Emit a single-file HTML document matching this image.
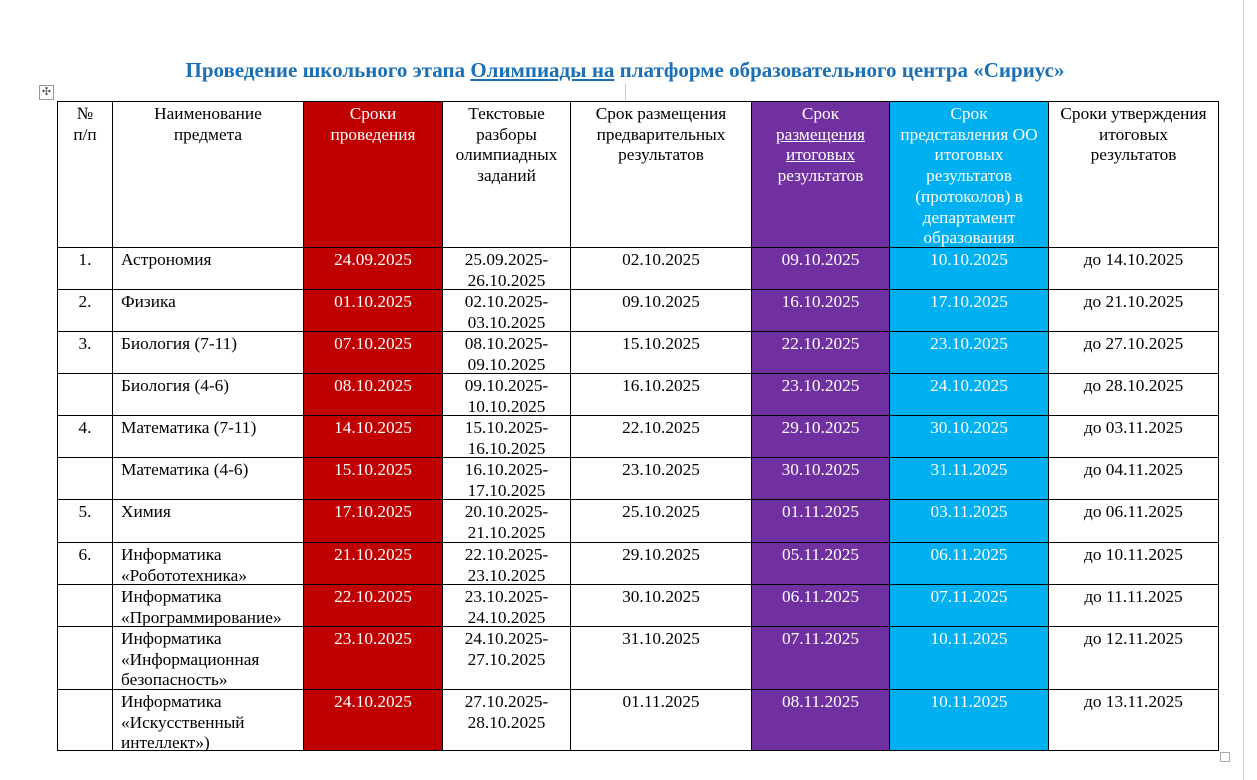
<!DOCTYPE html>
<html><head><meta charset="utf-8"><style>
body{margin:0;width:1257px;height:780px;background:#fff;position:relative;overflow:hidden;font-family:"Liberation Serif","Noto Serif CJK SC",serif;}
.title{position:absolute;top:58px;left:0;width:1250px;text-align:center;color:#1b6fb5;font-weight:bold;font-size:21px;}
table{position:absolute;left:57px;top:101px;border-collapse:collapse;table-layout:fixed;font-size:17.3px;line-height:20.7px;}
td{border:1px solid #000;vertical-align:top;text-align:center;padding:0;overflow:visible;}
td div{overflow:visible;padding-top:2px;white-space:nowrap;}
td.n div{text-align:left;padding-left:8px;}
.r{background:#c00000;color:#fff;}
.p{background:#7030a0;color:#fff;}
.c{background:#00b0f0;color:#fff;}
.mv{position:absolute;left:39px;top:85px;width:13px;height:13px;border:1px solid #999;font-size:11px;line-height:13px;text-align:center;color:#555;}
tr.h2 div{height:39px}
tr.h3 div{height:60px}
tr.h1 div{height:143px}
</style></head><body>
<div class="title">Проведение школьного этапа <u>Олимпиады  на</u> платформе образовательного центра «Сириус»</div>
<div class="mv">✣</div>
<div style="position:absolute;left:1243px;top:0;width:1px;height:780px;background:#ccc"></div>
<div style="position:absolute;left:625px;top:84px;width:1px;height:16px;background:#ccc"></div>
<div style="position:absolute;left:1220px;top:752px;width:8px;height:8px;border:1px solid #aaa"></div>
<table>
<colgroup><col style="width:55px"><col style="width:191px"><col style="width:139px"><col style="width:128px"><col style="width:181px"><col style="width:138px"><col style="width:159px"><col style="width:170px"></colgroup>
<tr class="h1"><td><div>№<br>п/п</div></td><td><div>Наименование<br>предмета</div></td><td class="r"><div>Сроки<br>проведения</div></td><td><div>Текстовые<br>разборы<br>олимпиадных<br>заданий</div></td><td><div>Срок размещения<br>предварительных<br>результатов</div></td><td class="p"><div>Срок<br><u>размещения </u><br><u>итоговых</u><br>результатов</div></td><td class="c"><div>Срок<br>представления ОО<br>итоговых<br>результатов<br>(протоколов) в<br>департамент<br>образования</div></td><td><div>Сроки утверждения<br>итоговых<br>результатов</div></td></tr>
<tr class="h2"><td><div>1.</div></td><td class="n"><div>Астрономия</div></td><td class="r"><div>24.09.2025</div></td><td><div>25.09.2025-<br>26.10.2025</div></td><td><div>02.10.2025</div></td><td class="p"><div>09.10.2025</div></td><td class="c"><div>10.10.2025</div></td><td><div>до 14.10.2025</div></td></tr>
<tr class="h2"><td><div>2.</div></td><td class="n"><div>Физика</div></td><td class="r"><div>01.10.2025</div></td><td><div>02.10.2025-<br>03.10.2025</div></td><td><div>09.10.2025</div></td><td class="p"><div>16.10.2025</div></td><td class="c"><div>17.10.2025</div></td><td><div>до 21.10.2025</div></td></tr>
<tr class="h2"><td><div>3.</div></td><td class="n"><div>Биология (7-11)</div></td><td class="r"><div>07.10.2025</div></td><td><div>08.10.2025-<br>09.10.2025</div></td><td><div>15.10.2025</div></td><td class="p"><div>22.10.2025</div></td><td class="c"><div>23.10.2025</div></td><td><div>до 27.10.2025</div></td></tr>
<tr class="h2"><td><div></div></td><td class="n"><div>Биология (4-6)</div></td><td class="r"><div>08.10.2025</div></td><td><div>09.10.2025-<br>10.10.2025</div></td><td><div>16.10.2025</div></td><td class="p"><div>23.10.2025</div></td><td class="c"><div>24.10.2025</div></td><td><div>до 28.10.2025</div></td></tr>
<tr class="h2"><td><div>4.</div></td><td class="n"><div>Математика (7-11)</div></td><td class="r"><div>14.10.2025</div></td><td><div>15.10.2025-<br>16.10.2025</div></td><td><div>22.10.2025</div></td><td class="p"><div>29.10.2025</div></td><td class="c"><div>30.10.2025</div></td><td><div>до 03.11.2025</div></td></tr>
<tr class="h2"><td><div></div></td><td class="n"><div>Математика (4-6)</div></td><td class="r"><div>15.10.2025</div></td><td><div>16.10.2025-<br>17.10.2025</div></td><td><div>23.10.2025</div></td><td class="p"><div>30.10.2025</div></td><td class="c"><div>31.11.2025</div></td><td><div>до 04.11.2025</div></td></tr>
<tr class="h2"><td><div style="height:40px">5.</div></td><td class="n"><div>Химия</div></td><td class="r"><div>17.10.2025</div></td><td><div>20.10.2025-<br>21.10.2025</div></td><td><div>25.10.2025</div></td><td class="p"><div>01.11.2025</div></td><td class="c"><div>03.11.2025</div></td><td><div>до 06.11.2025</div></td></tr>
<tr class="h2"><td><div>6.</div></td><td class="n"><div>Информатика<br>«Робототехника»</div></td><td class="r"><div>21.10.2025</div></td><td><div>22.10.2025-<br>23.10.2025</div></td><td><div>29.10.2025</div></td><td class="p"><div>05.11.2025</div></td><td class="c"><div>06.11.2025</div></td><td><div>до 10.11.2025</div></td></tr>
<tr class="h2"><td><div></div></td><td class="n"><div>Информатика<br>«Программирование»</div></td><td class="r"><div>22.10.2025</div></td><td><div>23.10.2025-<br>24.10.2025</div></td><td><div>30.10.2025</div></td><td class="p"><div>06.11.2025</div></td><td class="c"><div>07.11.2025</div></td><td><div>до 11.11.2025</div></td></tr>
<tr class="h3"><td><div></div></td><td class="n"><div>Информатика<br>«Информационная<br>безопасность»</div></td><td class="r"><div>23.10.2025</div></td><td><div>24.10.2025-<br>27.10.2025</div></td><td><div>31.10.2025</div></td><td class="p"><div>07.11.2025</div></td><td class="c"><div>10.11.2025</div></td><td><div>до 12.11.2025</div></td></tr>
<tr class="h3"><td><div style="height:58px"></div></td><td class="n"><div style="height:58px">Информатика<br>«Искусственный<br>интеллект»)</div></td><td class="r"><div style="height:58px">24.10.2025</div></td><td><div style="height:58px">27.10.2025-<br>28.10.2025</div></td><td><div style="height:58px">01.11.2025</div></td><td class="p"><div style="height:58px">08.11.2025</div></td><td class="c"><div style="height:58px">10.11.2025</div></td><td><div style="height:58px">до 13.11.2025</div></td></tr>
</table>
</body></html>
